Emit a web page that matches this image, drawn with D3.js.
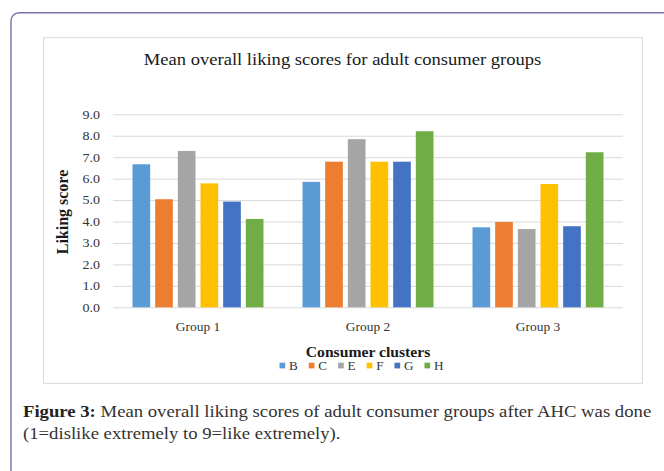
<!DOCTYPE html>
<html>
<head>
<meta charset="utf-8">
<script src="https://cdn.jsdelivr.net/npm/d3@7"></script>
<style>
  html, body { margin: 0; padding: 0; background: #fff; }
  svg { display: block; }
  text { font-family: "Liberation Serif", "Times New Roman", serif; }
</style>
</head>
<body>
<svg id="chart" width="664" height="471"></svg>
<script>
const groups = ["Group 1", "Group 2", "Group 3"];
const series = ["B", "C", "E", "F", "G", "H"];
const seriesColors = ["#5B9BD5", "#ED7D31", "#A5A5A5", "#FFC000", "#4472C4", "#70AD47"];
const valuesB = [6.67, 5.85, 3.73];
const valuesC = [5.04, 6.79, 3.98];
const valuesE = [7.29, 7.84, 3.65];
const valuesF = [5.78, 6.79, 5.75];
const valuesG = [4.93, 6.79, 3.78];
const valuesH = [4.12, 8.21, 7.23];
const yTicks = [0, 1, 2, 3, 4, 5, 6, 7, 8, 9];
const chartTitle = "Mean overall liking scores for adult consumer groups";
const yTitle = "Liking score";
const legendTitle = "Consumer clusters";
const captionBold = "Figure 3:";
const captionLine1 = " Mean overall liking scores of adult consumer groups after AHC was done";
const captionLine2 = "(1=dislike extremely to 9=like extremely).";

const seriesValues = [valuesB, valuesC, valuesE, valuesF, valuesG, valuesH];
const data = groups.map((g, gi) => ({
  group: g,
  vals: series.map((s, si) => ({ key: s, value: seriesValues[si][gi] }))
}));

const svg = d3.select("#chart");

// helper: place text in a horizontally stretched group (reference image is widened)
function stretched(parent, x, y, sx) {
  return parent.append("g").attr("transform", `translate(${x},${y}) scale(${sx},1)`);
}

// outer rounded frame
svg.append("rect")
  .attr("x", 11).attr("y", 12.7)
  .attr("width", 700).attr("height", 520)
  .attr("rx", 8).attr("ry", 8)
  .attr("fill", "none").attr("stroke", "#7474ac").attr("stroke-width", 1.4);

// inner chart box
svg.append("rect")
  .attr("x", 43.5).attr("y", 37.7)
  .attr("width", 598.8).attr("height", 345.6)
  .attr("fill", "#fff").attr("stroke", "#d9d9d9").attr("stroke-width", 1);

const x0 = d3.scaleBand().domain(groups).range([113, 623]).padding(0);
const x1 = d3.scaleBand().domain(series)
  .range([19.5, x0.bandwidth() - 19.5]).paddingInner(0.22).paddingOuter(0);
const y = d3.scaleLinear().domain([0, 9]).range([307.3, 114.3]);
const color = d3.scaleOrdinal().domain(series).range(seriesColors);

// title
stretched(svg, 342.5, 64.5, 1.08).append("text")
  .attr("text-anchor", "middle")
  .attr("font-size", 17.2).attr("fill", "#1a1a1a")
  .text(chartTitle);

// y axis with gridlines
const tickSx = 1.17;
const yAxis = svg.append("g")
  .attr("transform", "translate(113,0)")
  .call(d3.axisLeft(y).tickValues(yTicks).tickFormat(d3.format(".1f"))
    .tickSize(-(623 - 113)).tickPadding(13));
yAxis.select(".domain").remove();
yAxis.selectAll(".tick line").attr("stroke", "#d9d9d9").attr("stroke-width", 1);
yAxis.selectAll(".tick text")
  .attr("x", -13 / tickSx)
  .attr("transform", `scale(${tickSx},1)`)
  .attr("font-size", 12).attr("fill", "#333");

// bars
svg.append("g").selectAll("g")
  .data(data).join("g")
  .attr("transform", d => `translate(${x0(d.group)},0)`)
  .selectAll("rect")
  .data(d => d.vals).join("rect")
  .attr("x", d => x1(d.key))
  .attr("y", d => y(d.value))
  .attr("width", x1.bandwidth())
  .attr("height", d => y(0) - y(d.value))
  .attr("fill", d => color(d.key));

// x axis labels
const xAxis = svg.append("g")
  .attr("transform", `translate(0,${y(0)})`)
  .call(d3.axisBottom(x0).tickSize(0).tickPadding(15));
xAxis.select(".domain").remove();
xAxis.selectAll(".tick text")
  .attr("transform", "scale(1.12,1)")
  .attr("font-size", 12).attr("fill", "#333");

// y axis title
svg.append("text")
  .attr("transform", "translate(67.5,212) rotate(-90) scale(1,1.1)")
  .attr("text-anchor", "middle")
  .attr("font-size", 16).attr("font-weight", "bold").attr("fill", "#1a1a1a")
  .text(yTitle);

// legend title
stretched(svg, 368, 356.7, 1.08).append("text")
  .attr("text-anchor", "middle")
  .attr("font-size", 14.5).attr("font-weight", "bold").attr("fill", "#1a1a1a")
  .text(legendTitle);

// legend items
const legend = svg.append("g");
const items = legend.selectAll("g").data(series).join("g");
items.append("rect")
  .attr("width", 5.7).attr("height", 5.7)
  .attr("y", 362.7)
  .attr("fill", d => color(d));
const legSx = 1.08;
items.append("text")
  .attr("transform", `translate(9.5,369.5) scale(${legSx},1)`)
  .attr("font-size", 12.2).attr("fill", "#333")
  .text(d => d);
const widths = items.nodes().map(n => 9.5 + legSx * d3.select(n).select("text").node().getComputedTextLength());
const gap = 11;
const total = d3.sum(widths) + gap * (widths.length - 1);
let cx = 361.5 - total / 2;
items.each(function(d, i) {
  d3.select(this).attr("transform", `translate(${cx},0)`);
  cx += widths[i] + gap;
});

// caption
const capSx = 1.1;
const cap1 = stretched(svg, 23, 416.5, capSx).append("text")
  .attr("font-size", 17).attr("fill", "#333");
cap1.append("tspan").attr("font-weight", "bold").attr("fill", "#222").text(captionBold);
cap1.append("tspan").text(captionLine1);
stretched(svg, 23, 438.5, capSx).append("text")
  .attr("font-size", 17).attr("fill", "#333")
  .text(captionLine2);
</script>
</body>
</html>
